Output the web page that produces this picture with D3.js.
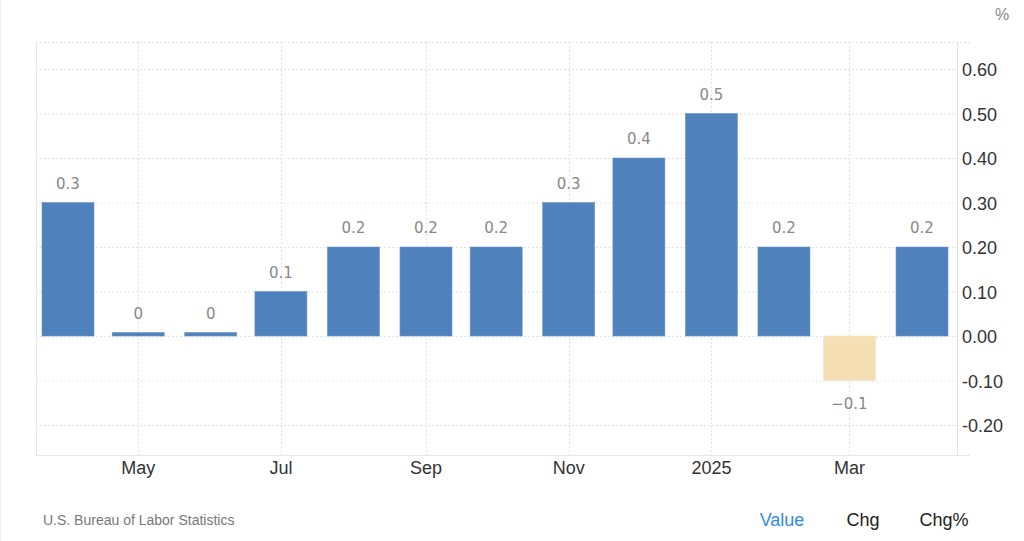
<!DOCTYPE html>
<html><head><meta charset="utf-8">
<script src="https://cdn.jsdelivr.net/npm/d3@7"></script>
<style>
body{margin:0;background:#fff;}
svg{display:block;}
</style></head>
<body>
<svg id="chart" width="1024" height="541"></svg>
<script>
const months = ["2024-04","2024-05","2024-06","2024-07","2024-08","2024-09","2024-10","2024-11","2024-12","2025-01","2025-02","2025-03","2025-04"];
const values = [0.3,0,0,0.1,0.2,0.2,0.2,0.3,0.4,0.5,0.2,-0.1,0.2];
const labels = ["0.3","0","0","0.1","0.2","0.2","0.2","0.3","0.4","0.5","0.2","-0.1","0.2"];
const yTicks = [0.6,0.5,0.4,0.3,0.2,0.1,0,-0.1,-0.2];
const xTickMonths = ["2024-05","2024-07","2024-09","2024-11","2025-01","2025-03"];
const xTickLabels = ["May","Jul","Sep","Nov","2025","Mar"];
const sourceText = "U.S. Bureau of Labor Statistics";
const unitText = "%";
const buttons = ["Value","Chg","Chg%"];

const svg = d3.select("#chart");
const L = 36, R = 957, T = 42, B = 455;
const parse = d3.timeParse("%Y-%m");

const x = d3.scaleTime().domain([parse("2024-04"), parse("2025-04")]).range([68, 922]);
const barW = 52;
const y = d3.scaleLinear().domain([-0.2674, 0.6607]).range([B, T]);

// horizontal grid
svg.append("g").selectAll("line").data(yTicks).join("line")
  .attr("x1", L).attr("x2", R).attr("y1", d=>y(d)+0.5).attr("y2", d=>y(d)+0.5)
  .attr("stroke", "#e3e3e3").attr("stroke-dasharray", "2,2");
// top border
svg.append("line").attr("x1", L).attr("x2", 972).attr("y1", T+0.5).attr("y2", T+0.5)
  .attr("stroke", "#e3e3e3").attr("stroke-dasharray", "2,2");
// vertical grid
svg.append("g").selectAll("line").data(xTickMonths).join("line")
  .attr("x1", d=>Math.round(x(parse(d)))+0.5).attr("x2", d=>Math.round(x(parse(d)))+0.5)
  .attr("y1", T).attr("y2", B)
  .attr("stroke", "#e3e3e3").attr("stroke-dasharray", "2,2");
// frame
svg.append("line").attr("x1", L+0.5).attr("x2", L+0.5).attr("y1", T).attr("y2", B).attr("stroke", "#e6e6e6");
svg.append("line").attr("x1", R+0.5).attr("x2", R+0.5).attr("y1", T).attr("y2", B).attr("stroke", "#e0e0e0");
svg.append("line").attr("x1", L).attr("x2", 970).attr("y1", B+0.5).attr("y2", B+0.5).attr("stroke", "#e6e6e6");

// bars
const data = months.map((m,i)=>({d: parse(m), v: values[i], lab: labels[i]}));
svg.append("g").selectAll("rect").data(data).join("rect")
  .attr("x", d=>x(d.d) - barW/2)
  .attr("width", barW)
  .attr("y", d=> d.v >= 0 ? Math.min(y(d.v), y(0)-3.5) : y(0))
  .attr("height", d=> Math.max(Math.abs(y(d.v)-y(0)), 3.5))
  .attr("fill", d=> d.v < 0 ? "#f5deb3" : "#4f81bd")
  .attr("stroke", d=> d.v < 0 ? "#f7e6c6" : "#6d96c8").attr("stroke-width", 0.6);

// value labels
svg.append("g").selectAll("text").data(data).join("text")
  .attr("x", d=>x(d.d))
  .attr("y", d=> d.v >= 0 ? Math.min(y(d.v), y(0)-3.5) - 14 : y(d.v) + 28)
  .attr("text-anchor", "middle")
  .attr("font-family", "'DejaVu Sans', sans-serif").attr("font-size", 15)
  .attr("fill", "#888")
  .text(d=> d.lab.replace("-", "\u2212"));

// y axis labels
svg.append("g").selectAll("text").data(yTicks).join("text")
  .attr("x", 962).attr("y", d=>y(d)+7)
  .attr("font-family", "'Liberation Sans', Arial, sans-serif").attr("font-size", 18)
  .attr("fill", "#333")
  .text(d=>d3.format(".2f")(d).replace("\u2212", "-"));

// x axis labels
svg.append("g").selectAll("text").data(xTickMonths).join("text")
  .attr("x", d=>x(parse(d))).attr("y", 474)
  .attr("text-anchor", "middle")
  .attr("font-family", "'Liberation Sans', Arial, sans-serif").attr("font-size", 18)
  .attr("fill", "#333")
  .text((d,i)=>xTickLabels[i]);

// unit
svg.append("text").attr("x", 1002).attr("y", 20).attr("text-anchor", "middle")
  .attr("font-family", "'Liberation Sans', Arial, sans-serif").attr("font-size", 16).attr("fill", "#888").text(unitText);

// source
svg.append("text").attr("x", 43).attr("y", 525)
  .attr("font-family", "'Liberation Sans', Arial, sans-serif").attr("font-size", 14).attr("fill", "#777").text(sourceText);

// buttons
const bx = [782, 863, 944];
svg.append("g").selectAll("text").data(buttons).join("text")
  .attr("x", (d,i)=>bx[i]).attr("y", 526).attr("text-anchor", "middle")
  .attr("font-family", "'Liberation Sans', Arial, sans-serif").attr("font-size", 18)
  .attr("fill", (d,i)=> i===0 ? "#2f8de4" : "#222")
  .text(d=>d);

// left edge faint line of page
svg.append("line").attr("x1", 0.5).attr("x2", 0.5).attr("y1", 0).attr("y2", 541).attr("stroke", "#f0f0f0");
</script>
</body></html>
